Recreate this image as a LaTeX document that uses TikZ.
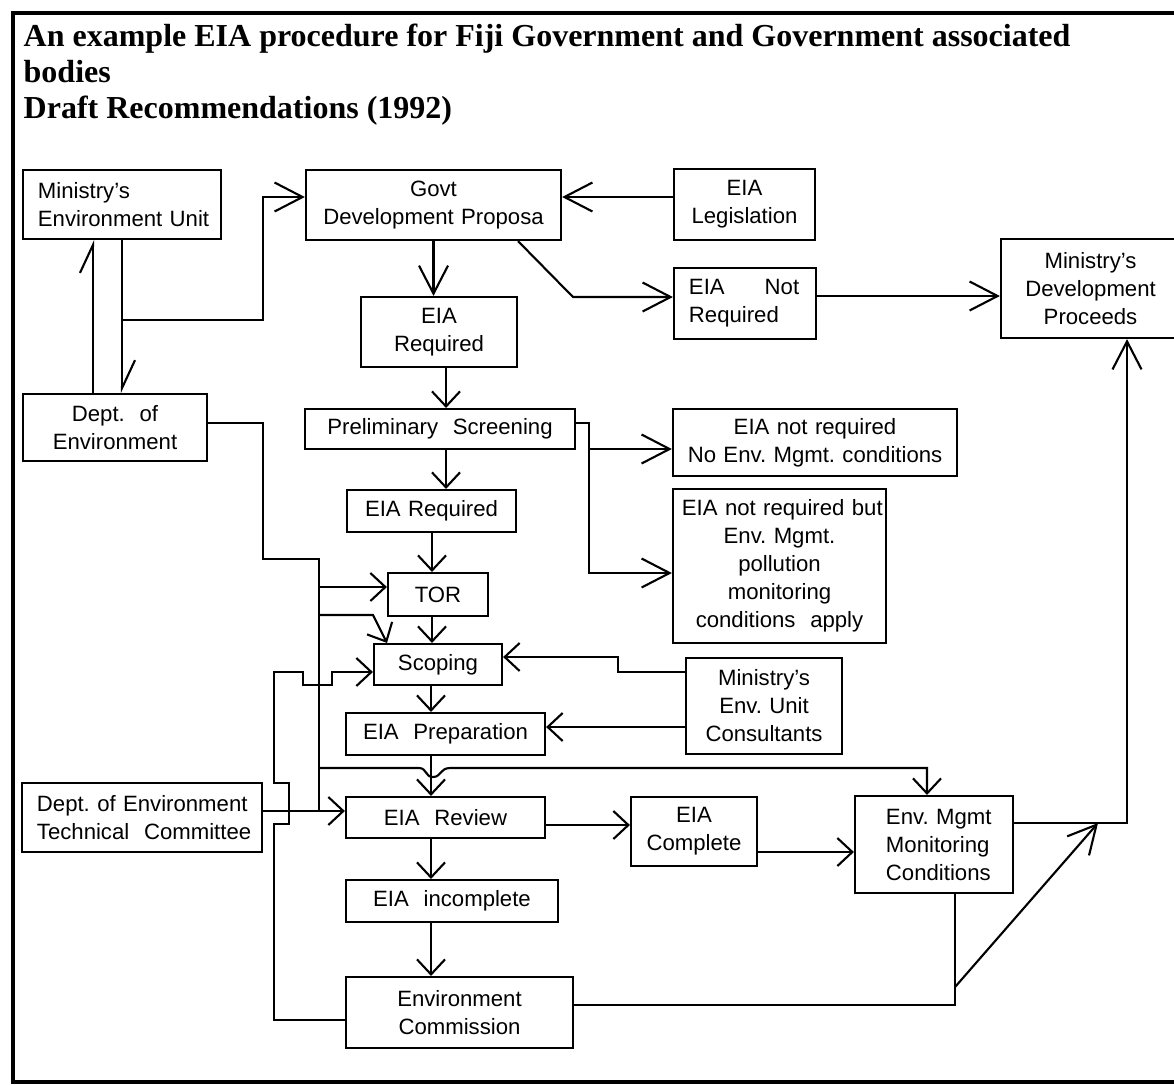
\documentclass[tikz,border=0pt]{standalone}
\usepackage{fontspec}
\setmainfont{Liberation Sans}
\newfontfamily\titlefont{Liberation Serif}
\usetikzlibrary{arrows.meta}

\newcommand{\boxfont}{\fontsize{6.3}{7.95}\selectfont\frenchspacing\hyphenpenalty=10000\exhyphenpenalty=10000}
\newcommand{\headfont}{\titlefont\bfseries\fontsize{9.1}{10.3}\selectfont}

\tikzset{
  box/.style={draw, line width=0.6pt, inner sep=0pt, font=\boxfont, align=center},
  link/.style={line width=0.6pt},
  arr/.style={line width=0.6pt, -{Straight Barb[length=1.5mm,width=2.8mm]}},
  bigarr/.style={line width=0.6pt, -{Straight Barb[length=2.8mm,width=2.9mm]}},
  harp/.style={line width=0.6pt, -{Straight Barb[harpoon,length=2.8mm,width=2.6mm]}}
}

\begin{document}
\begin{tikzpicture}[x=0.01cm, y=-0.01cm]
  \useasboundingbox (0,0) rectangle (1174,1084);
  \draw[line width=1.2pt] (1180,13) -- (13,13) -- (13,1082) -- (1180,1082);

  \node[anchor=north west, inner sep=0pt, align=left, font=\headfont] (title) at (23,23)
    {An example EIA procedure for Fiji Government and Government associated\\bodies\\Draft Recommendations (1992)};

  % boxes
  \node[box, minimum width=19.8mm, minimum height=6.9mm, text width=16.8mm, align=left] (minEnv) at (122,204.5) {Ministry's\\Environment~Unit};
  \node[box, minimum width=25.5mm, minimum height=7mm, text width=24.5mm] (govt) at (433.5,205) {Govt\\Development~Proposa};
  \node[box, minimum width=14.1mm, minimum height=7.1mm, text width=13mm] (leg) at (744.5,204.5) {EIA\\Legislation};
  \node[box, minimum width=14.2mm, minimum height=7.1mm, text width=11.2mm, align=left] (notReq) at (745,303.5) {EIA\hspace{4mm}Not\\Required};
  \node[box, minimum width=17.9mm, minimum height=9.9mm, text width=17mm] (proceeds) at (1090.5,288.5) {Ministry's\\Development\\Proceeds};
  \node[box, minimum width=15.6mm, minimum height=7mm, text width=15mm] (reqA) at (439,332) {EIA\\Required};
  \node[box, minimum width=27mm, minimum height=4mm, text width=26mm] (prelim) at (440,429) {Preliminary\ \ Screening};
  \node[box, minimum width=28.4mm, minimum height=6.7mm, text width=26.6mm] (noEnv) at (815,442.5) {EIA not required\\No~Env.~Mgmt.~conditions};
  \node[box, minimum width=21.3mm, minimum height=15.4mm, text width=19.5mm] (butApply) at (779.5,566)
    {EIA~not~required~but\\Env. Mgmt.\\pollution\\monitoring\\conditions\ \ apply};
  \node[box, minimum width=16.9mm, minimum height=4.2mm, text width=16mm] (reqB) at (431.5,511) {EIA Required};
  \node[box, minimum width=10mm, minimum height=4.3mm, text width=9mm] (tor) at (438,594.5) {TOR};
  \node[box, minimum width=12.8mm, minimum height=4.1mm, text width=12mm] (scoping) at (438,664.5) {Scoping};
  \node[box, minimum width=19.9mm, minimum height=4.2mm, text width=19mm] (prep) at (445.5,734) {EIA\ \ Preparation};
  \node[box, minimum width=19.9mm, minimum height=4.1mm, text width=19mm] (review) at (445.5,817.5) {EIA\ \ Review};
  \node[box, minimum width=21.2mm, minimum height=4.2mm, text width=20mm] (incomplete) at (452,901) {EIA\ \ incomplete};
  \node[box, minimum width=22.7mm, minimum height=7.1mm, text width=20mm] (commission) at (459.5,1012.5) {Environment\\Commission};
  \node[box, minimum width=12.6mm, minimum height=6.9mm, text width=12mm] (complete) at (694,831.5) {EIA\\Complete};
  \node[box, minimum width=15.8mm, minimum height=9.7mm, text width=9.6mm, align=left] (envMgmt) at (934,844.5) {Env.~Mgmt\\Monitoring\\Conditions};
  \node[box, minimum width=15.6mm, minimum height=9.6mm, text width=15mm] (consult) at (764,706) {Ministry's\\Env. Unit\\Consultants};
  \node[box, minimum width=18.4mm, minimum height=6.7mm, text width=17.5mm] (dept) at (115,427.5) {Dept.\ \ of\\Environment};
  \node[box, minimum width=24mm, minimum height=6.9mm, text width=21mm, align=left] (tech) at (142,817.5) {Dept.~of~Environment\\Technical~\ Committee};

  % Ministry's unit and Dept. of Environment
  \coordinate (upL) at (93,394);
  \coordinate (dnR) at (122,320);
  \draw[harp] (upL) -- (upL |- minEnv.south);
  \draw[harp] (minEnv.south) -- (minEnv.south |- dept.north);
  \draw[bigarr] (dnR) -- (263,320) |- (govt.west |- 0,197);
  \draw[bigarr] (leg.west |- 0,197) -- (govt.east |- 0,197);

  % proposal
  \draw[bigarr] (govt.south) -- (govt.south |- reqA.north);
  \draw[bigarr] (govt.south -| 518,0) -- (573,297) -- (notReq.west |- 0,297);
  \draw[bigarr] (notReq.east |- 0,296) -- (proceeds.west |- 0,296);

  % screening
  \draw[arr] (446,0 |- reqA.south) -- (446,0 |- prelim.north);
  \draw[bigarr] (prelim.east |- 0,423) -- (589,423) |- (butApply.west |- 0,573);
  \draw[bigarr] (589,449) -- (noEnv.west |- 0,449);
  \draw[arr] (446,0 |- prelim.south) -- (446,0 |- reqB.north);
  \draw[arr] (432,0 |- reqB.south) -- (432,0 |- tor.north);
  \draw[arr] (432,0 |- tor.south) -- (432,0 |- scoping.north);

  % Dept. of Environment feeds
  \draw[link] (dept.east |- 0,423) -| (263,559) -| (319,811);
  \draw[arr] (319,587) -- (tor.west |- 0,587);
  \draw[arr] (319,615) -- (373,615) -- (387,0 |- scoping.north);
  \draw[arr] (319,768) -- (419,768) .. controls (427,768) and (425,777) .. (433,777)
    .. controls (441,777) and (440,768) .. (450,768) -- (927,768) -- (927,0 |- envMgmt.north);
  \draw[arr] (tech.east |- 0,811) -- (review.west |- 0,811);

  % commission back to scoping
  \draw[arr] (commission.west |- 0,1020) -- (274,1020) -- (274,824) -- (289,824) -- (289,783)
    -- (274,783) -- (274,672) -- (303,672) -- (303,685) -- (332,685) -- (332,672) -- (scoping.west |- 0,672);

  % consultants
  \draw[arr] (consult.west |- 0,672) -- (618,672) -- (618,657) -- (scoping.east |- 0,657);
  \draw[arr] (consult.west |- 0,727) -- (prep.east |- 0,727);

  % main chain
  \draw[arr] (431,0 |- scoping.south) -- (431,0 |- prep.north);
  \draw[arr] (431,0 |- prep.south) -- (431,0 |- review.north);
  \draw[arr] (431,0 |- review.south) -- (431,0 |- incomplete.north);
  \draw[arr] (431,0 |- incomplete.south) -- (431,0 |- commission.north);
  \draw[arr] (review.east |- 0,825) -- (complete.west |- 0,825);
  \draw[arr] (complete.east |- 0,852) -- (envMgmt.west |- 0,852);

  % to development proceeds
  \draw[bigarr] (envMgmt.east |- 0,823) -- (1127,823) -- (1127,0 |- proceeds.south);
  \draw[link] (commission.east |- 0,1005) -- (955,1005) -- (955,0 |- envMgmt.south);
  \draw[bigarr] (955,987) -- (1098,823);
\end{tikzpicture}
\end{document}
